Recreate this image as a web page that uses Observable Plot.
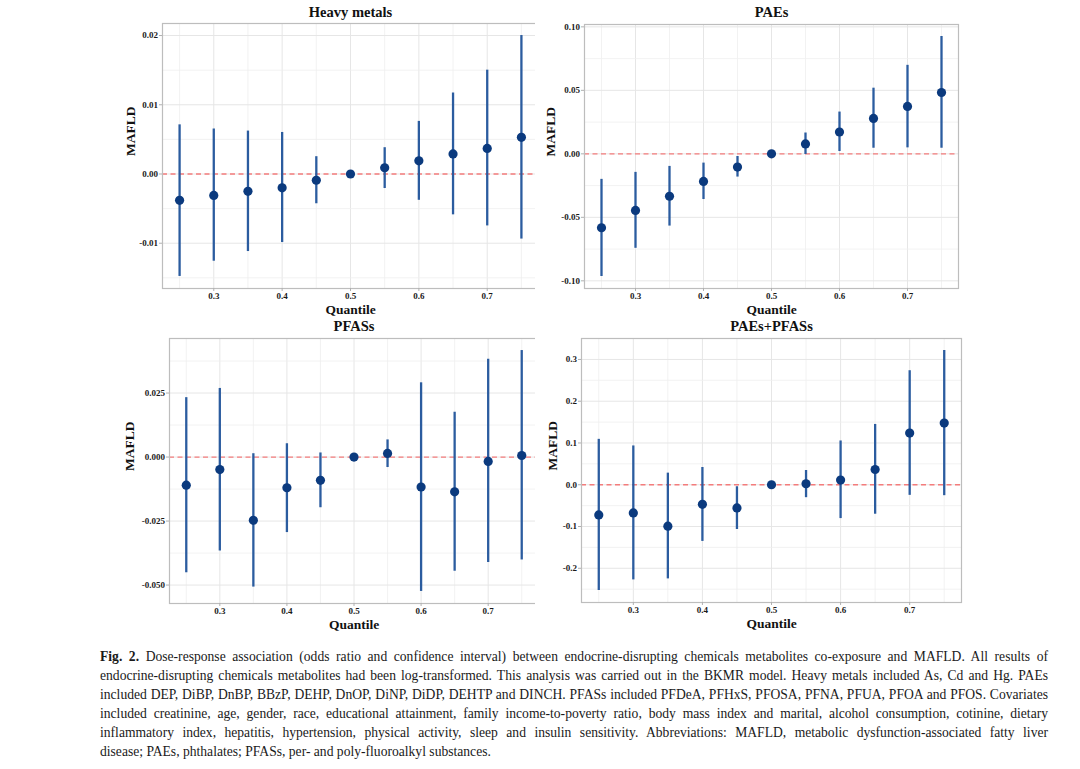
<!DOCTYPE html>
<html>
<head>
<meta charset="utf-8">
<script src="https://cdn.jsdelivr.net/npm/d3@7"></script>
<script src="https://cdn.jsdelivr.net/npm/@observablehq/plot@0.6"></script>
<style>
  html, body { margin: 0; padding: 0; background: #fff; }
  #page { position: relative; width: 1080px; height: 769px; overflow: hidden; background: #fff; }
  .panel { position: absolute; }
  #caption { position: absolute; left: 100px; top: 647px; width: 948px;
    font-family: "Liberation Serif", "Times New Roman", serif; font-size: 13.6px; line-height: 19px; color: #1a1a1a; }
  #caption .ln { text-align: justify; text-align-last: justify; white-space: normal; }
  #caption .ln.last { text-align-last: left; }
</style>
</head>
<body>
<div id="page">
  <div class="panel" id="p1" style="left:100px;top:0px"></div>
  <div class="panel" id="p2" style="left:535px;top:0px"></div>
  <div class="panel" id="p3" style="left:100px;top:318px"></div>
  <div class="panel" id="p4" style="left:535px;top:318px"></div>
  <div id="caption">
    <div class="ln"><b>Fig. 2.</b> Dose-response association (odds ratio and confidence interval) between endocrine-disrupting chemicals metabolites co-exposure and MAFLD. All results of</div>
    <div class="ln">endocrine-disrupting chemicals metabolites had been log-transformed. This analysis was carried out in the BKMR model. Heavy metals included As, Cd and Hg. PAEs</div>
    <div class="ln">included DEP, DiBP, DnBP, BBzP, DEHP, DnOP, DiNP, DiDP, DEHTP and DINCH. PFASs included PFDeA, PFHxS, PFOSA, PFNA, PFUA, PFOA and PFOS. Covariates</div>
    <div class="ln">included creatinine, age, gender, race, educational attainment, family income-to-poverty ratio, body mass index and marital, alcohol consumption, cotinine, dietary</div>
    <div class="ln">inflammatory index, hepatitis, hypertension, physical activity, sleep and insulin sensitivity. Abbreviations: MAFLD, metabolic dysfunction-associated fatty liver</div>
    <div class="ln last">disease; PAEs, phthalates; PFASs, per- and poly-fluoroalkyl substances.</div>
  </div>
</div>
<script>
// ---- data ----
const quantile = [0.25, 0.30, 0.35, 0.40, 0.45, 0.50, 0.55, 0.60, 0.65, 0.70, 0.75];

const metalsEst  = [-0.0038, -0.0031, -0.0025, -0.0020, -0.0009, 0, 0.0009, 0.0019, 0.0029, 0.0037, 0.0053];
const metalsLow  = [-0.0148, -0.0126, -0.0112, -0.0099, -0.0043, 0, -0.0021, -0.0038, -0.0059, -0.0075, -0.0094];
const metalsHigh = [0.0071, 0.0065, 0.0062, 0.0060, 0.0025, 0, 0.0038, 0.0076, 0.0117, 0.0150, 0.0200];

const paesEst  = [-0.0582, -0.0446, -0.0334, -0.0217, -0.0104, 0, 0.0078, 0.0172, 0.0279, 0.0373, 0.0483];
const paesLow  = [-0.0966, -0.0744, -0.0569, -0.0360, -0.0183, 0, -0.0005, 0.0018, 0.0044, 0.0047, 0.0044];
const paesHigh = [-0.0201, -0.0146, -0.0099, -0.0073, -0.0021, 0, 0.0164, 0.0329, 0.0517, 0.0697, 0.0924];

const pfasEst  = [-0.0110, -0.0049, -0.0247, -0.0120, -0.0091, 0, 0.0014, -0.0117, -0.0136, -0.0017, 0.0006];
const pfasLow  = [-0.0452, -0.0367, -0.0508, -0.0295, -0.0198, 0, -0.0041, -0.0525, -0.0446, -0.0412, -0.0402];
const pfasHigh = [0.0232, 0.0268, 0.0013, 0.0052, 0.0016, 0, 0.0067, 0.0290, 0.0175, 0.0382, 0.0416];

const mixEst  = [-0.0722, -0.0675, -0.0992, -0.0468, -0.0556, 0, 0.0024, 0.0111, 0.0365, 0.1238, 0.1476];
const mixLow  = [-0.2532, -0.2278, -0.2254, -0.1357, -0.1071, 0, -0.0310, -0.0810, -0.0706, -0.0254, -0.0262];
const mixHigh = [0.1087, 0.0929, 0.0278, 0.0413, -0.0048, 0, 0.0341, 0.1048, 0.1444, 0.2730, 0.3214];

const xTicksMajor = [0.3, 0.4, 0.5, 0.6, 0.7];
const xTicksMinor = [0.25, 0.35, 0.45, 0.55, 0.65, 0.75];

const titles = ["Heavy metals", "PAEs", "PFASs", "PAEs+PFASs"];
const xLabel = "Quantile";
const yLabel = "MAFLD";

// ---- panels ----
function expand(lo, hi) {
  const mn = d3.min(lo), mx = d3.max(hi), pad = (mx - mn) * 0.05;
  return [mn - pad, mx + pad];
}

function panel(cfg) {
  const data = quantile.map((q, i) => ({q, est: cfg.est[i], low: cfg.low[i], high: cfg.high[i]}));
  const yDomain = expand(cfg.low, cfg.high);
  const fmt = d => (Math.abs(d) < 1e-12 ? 0 : d).toFixed(cfg.digits);
  return Plot.plot({
    width: cfg.width, height: cfg.height,
    marginLeft: cfg.m[0], marginRight: cfg.m[1], marginTop: cfg.m[2], marginBottom: cfg.m[3],
    style: {fontFamily: "'Liberation Serif', 'Times New Roman', serif", fontSize: "9px", fontWeight: "bold", color: "#1a1a1a", background: "#fff", overflow: "visible"},
    x: {domain: [0.225, 0.775]},
    y: {domain: yDomain},
    marks: [
      Plot.gridX({ticks: xTicksMinor, stroke: "#efefef", strokeOpacity: 1, strokeWidth: 0.8}),
      Plot.gridX({ticks: xTicksMajor, stroke: "#e6e6e6", strokeOpacity: 1, strokeWidth: 1}),
      Plot.gridY({ticks: cfg.yMinor, stroke: "#efefef", strokeOpacity: 1, strokeWidth: 0.8}),
      Plot.gridY({ticks: cfg.yMajor, stroke: "#e6e6e6", strokeOpacity: 1, strokeWidth: 1}),
      Plot.ruleY([0], {stroke: "#f47c7c", strokeWidth: 1.3, strokeDasharray: "5,3.5"}),
      Plot.ruleX(data, {x: "q", y1: "low", y2: "high", stroke: "#2b5c9f", strokeWidth: 2.3}),
      Plot.dot(data, {x: "q", y: "est", r: 4.6, fill: "#0b3a7e", stroke: "none"}),
      Plot.frame({stroke: "#bdbdbd", strokeWidth: 1.2}),
      Plot.axisX({ticks: xTicksMajor, tickFormat: d => d.toFixed(1), tickSize: 3, tickPadding: 1, stroke: "#b0b0b0", label: null}),
      Plot.axisY({ticks: cfg.yMajor, tickFormat: fmt, tickSize: 3, tickPadding: 1.5, stroke: "#b0b0b0", label: null}),
      Plot.text([cfg.title], {frameAnchor: "top", lineAnchor: "middle", dy: cfg.titleDy, fontSize: 14.5, fontWeight: "bold", fill: "#111"}),
      Plot.text([xLabel], {frameAnchor: "bottom", lineAnchor: "middle", dy: 21, fontSize: 13.5, fontWeight: "bold", fill: "#111"}),
      Plot.text([yLabel], {frameAnchor: "left", dx: cfg.yLabelDx, rotate: -90, fontSize: 13.5, fontWeight: "bold", fill: "#111"})
    ]
  });
}

document.getElementById("p1").appendChild(panel({
  title: titles[0], est: metalsEst, low: metalsLow, high: metalsHigh, digits: 2,
  yMajor: [-0.01, 0, 0.01, 0.02], yMinor: [-0.015, -0.005, 0.005, 0.015],
  width: 445, height: 318, m: [62, 7, 23, 30], titleDy: -11, yLabelDx: -32
}));
document.getElementById("p2").appendChild(panel({
  title: titles[1], est: paesEst, low: paesLow, high: paesHigh, digits: 2,
  yMajor: [-0.1, -0.05, 0, 0.05, 0.1], yMinor: [-0.075, -0.025, 0.025, 0.075],
  width: 435, height: 318, m: [49, 12, 24, 30], titleDy: -12, yLabelDx: -34
}));
document.getElementById("p3").appendChild(panel({
  title: titles[2], est: pfasEst, low: pfasLow, high: pfasHigh, digits: 3,
  yMajor: [-0.05, -0.025, 0, 0.025], yMinor: [-0.0375, -0.0125, 0.0125, 0.0375],
  width: 445, height: 318, m: [69, 7, 20, 33], titleDy: -12, yLabelDx: -40
}));
document.getElementById("p4").appendChild(panel({
  title: titles[3], est: mixEst, low: mixLow, high: mixHigh, digits: 1,
  yMajor: [-0.2, -0.1, 0, 0.1, 0.2, 0.3], yMinor: [-0.25, -0.15, -0.05, 0.05, 0.15, 0.25],
  width: 435, height: 318, m: [46, 9, 20, 34], titleDy: -12, yLabelDx: -29
}));
</script>
</body>
</html>
